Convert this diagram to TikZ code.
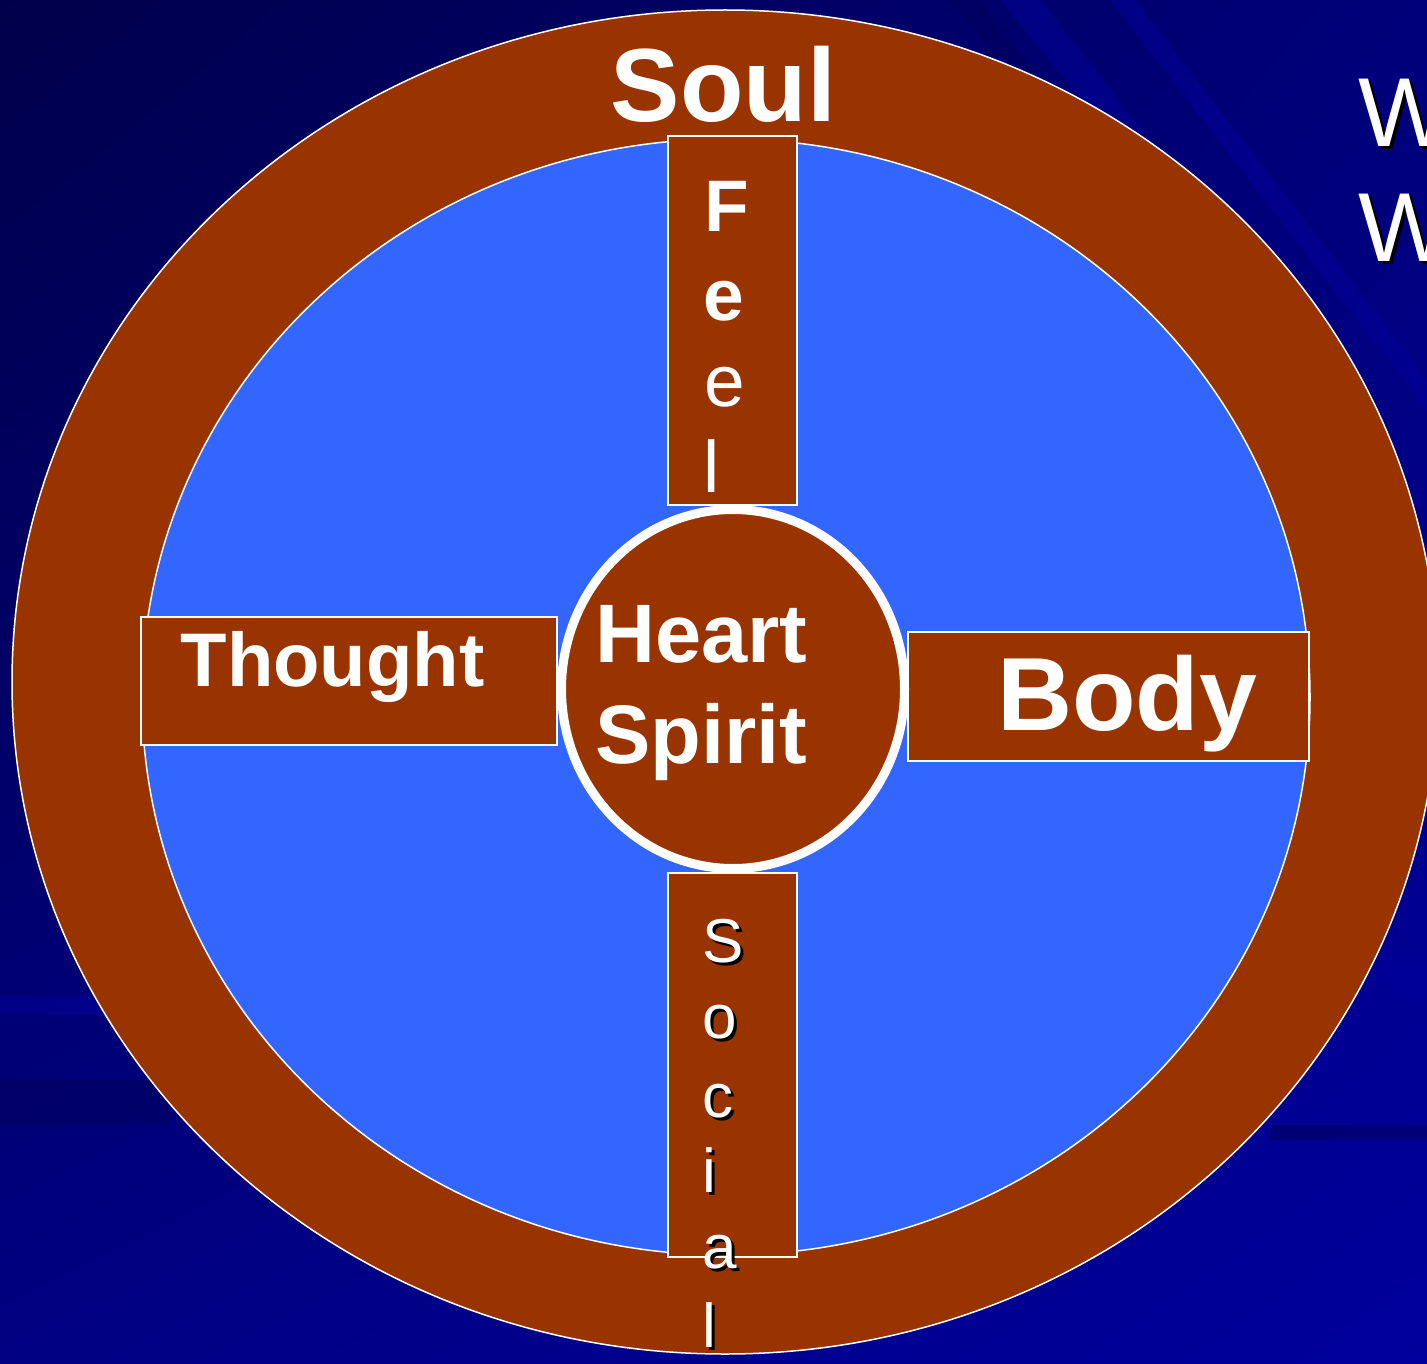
\documentclass[tikz,border=0pt]{standalone}
\usepackage{fontspec}
\setmainfont{Liberation Sans}
\usetikzlibrary{shapes.geometric,shadings}
\definecolor{brownfill}{HTML}{993300}
\definecolor{bluefill}{HTML}{3366FF}
\definecolor{bgdark}{HTML}{00004A}
\definecolor{bgmidA}{HTML}{00007A}
\definecolor{bgmidB}{HTML}{000082}
\definecolor{bglight}{HTML}{00009C}
\definecolor{streakcol}{HTML}{0000A0}
\definecolor{streakdark}{HTML}{00005A}
\tikzset{
  bar/.style={rectangle, fill=brownfill, draw=white, line width=1.5pt, inner sep=0pt},
  boldtxt/.style={text=white, font=\bfseries, inner sep=0pt},
  plaintxt/.style={text=white, inner sep=0pt},
  shadowtxt/.style={text=black, inner sep=0pt},
  streak/.style={fill=streakcol, opacity=0.45},
  darkstreak/.style={fill=streakdark, opacity=0.5}
}
\newcommand{\fs}[1]{\fontsize{#1}{#1}\selectfont}
\begin{document}
\begin{tikzpicture}[x=1pt,y=-1pt]
\useasboundingbox (0,0) rectangle (1427,1364);
% background
\shade[upper left=bgdark, upper right=bgmidA, lower left=bgmidB, lower right=bglight] (0,0) rectangle (1427,1364);
\fill[streak] (1000,0) -- (1040,0) -- (1300,330) -- (1270,330) -- cycle;
\fill[streak] (1110,0) -- (1135,0) -- (1427,380) -- (1427,410) -- cycle;
\fill[darkstreak] (950,0) -- (980,0) -- (1200,300) -- (1180,300) -- cycle;
\fill[darkstreak] (0,1080) -- (170,1080) -- (170,1125) -- (0,1125) -- cycle;
\fill[streak] (0,995) -- (150,995) -- (150,1015) -- (0,1015) -- cycle;
\fill[darkstreak] (1270,1125) -- (1427,1125) -- (1427,1140) -- (1270,1140) -- cycle;
\fill[streak] (1360,950) -- (1427,965) -- (1427,1000) -- (1360,980) -- cycle;
% outer ring (soul)
\filldraw[fill=brownfill, draw=white, line width=1.5pt] (725,682) ellipse [x radius=713pt, y radius=672pt];
% inner blue
\filldraw[fill=bluefill, draw=white, line width=1.5pt] (726,697) ellipse [x radius=584pt, y radius=558pt];
% bars
\node[bar, minimum width=129pt, minimum height=369pt] (feelbar) at (732.5,320.5) {};
\node[bar, minimum width=129pt, minimum height=384pt] (socialbar) at (732.5,1065) {};
\node[bar, minimum width=416pt, minimum height=128pt] (thoughtbar) at (349,681) {};
\node[bar, minimum width=401pt, minimum height=129pt] (bodybar) at (1108.5,696.5) {};
% hub
\node[ellipse, fill=brownfill, draw=white, line width=9pt, minimum width=343pt, minimum height=359pt, inner sep=0pt] (hub) at (733,689) {};
% texts
\node[boldtxt, anchor=base, font=\bfseries\fs{104}] (soul) at (723.5,122) {Soul};
\node[boldtxt, anchor=base, font=\bfseries\fs{76}] (thought) at (332.5,686) {Thought};
\node[boldtxt, anchor=base, font=\bfseries\fs{83}] (heart) at (701.5,662) {Heart};
\node[boldtxt, anchor=base, font=\bfseries\fs{83}] (spirit) at (701.5,763) {Spirit};
\node[boldtxt, anchor=base, font=\bfseries\fs{104}] (body) at (1127,730) {Body};
% Feel letters
\node[boldtxt, anchor=base west, font=\bfseries\fs{73}] (f1) at (704,232) {F};
\node[boldtxt, anchor=base west, font=\bfseries\fs{73}] (f2) at (703,320) {e};
\node[plaintxt, anchor=base west, font=\fs{73}] (f3) at (704,406) {e};
\node[plaintxt, anchor=base west, font=\fs{73}] (f4) at (703,492) {l};
% Social letters with shadow
\foreach \ch/\yy/\nm in {S/962/sa, o/1038/sb, c/1117/sc, i/1192/sd, a/1268/se, l/1347/sf}{
  \node[shadowtxt, anchor=base west, font=\fs{62}] (\nm-shadow) at (705,\yy+3) {\ch};
  \node[plaintxt, anchor=base west, font=\fs{62}] (\nm) at (702,\yy) {\ch};
}
% W W at right with shadow
\node[shadowtxt, anchor=base west, font=\fs{98}] (wa-shadow) at (1361,150) {W};
\node[plaintxt, anchor=base west, font=\fs{98}] (wa) at (1358,147) {W};
\node[shadowtxt, anchor=base west, font=\fs{98}] (wb-shadow) at (1361,265) {W};
\node[plaintxt, anchor=base west, font=\fs{98}] (wb) at (1358,262) {W};
\end{tikzpicture}
\end{document}
